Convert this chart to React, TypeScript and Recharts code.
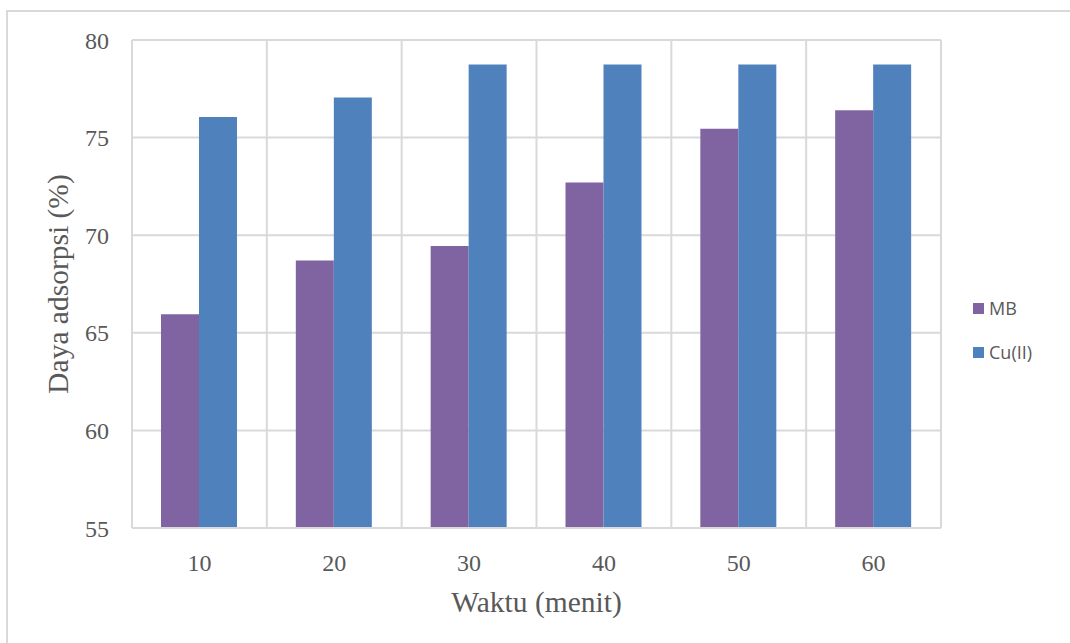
import React from "react";
import { BarChart, Bar, XAxis, YAxis, CartesianGrid, Legend, Label } from "recharts";

const waktu = ["10", "20", "30", "40", "50", "60"];
const mbValues = [65.95, 68.7, 69.45, 72.7, 75.45, 76.4];
const cuValues = [76.05, 77.05, 78.75, 78.75, 78.75, 78.75];
const yTicks = [55, 60, 65, 70, 75, 80];
const seriesNames = ["MB", "Cu(II)"];

const data = waktu.map((w, i) => ({ waktu: w, MB: mbValues[i], "Cu(II)": cuValues[i] }));

const GRID = "#d9d9d9";
const TEXT = "#595959";
const SERIF = "'Liberation Serif', 'Times New Roman', serif";

// tick text has to be drawn by hand, the tick object's fontFamily gets lost
const XTick = (props: any) => (
    <text x={props.x} y={props.y} dy="0.71em" textAnchor="middle" fill={TEXT} fontSize={24} fontFamily={SERIF}>
        {props.payload.value}
    </text>
);

const YTick = (props: any) => (
    <text x={props.x} y={props.y} dy="0.355em" textAnchor="end" fill={TEXT} fontSize={24} fontFamily={SERIF}>
        {props.payload.value}
    </text>
);

const renderLegend = (props: any) => {
    const items = [...(props.payload || [])].sort(
        (a: any, b: any) => seriesNames.indexOf(a.value) - seriesNames.indexOf(b.value)
    );
    return (
        <div style={{ fontFamily: "'Open Sans', sans-serif", fontSize: 18, color: TEXT }}>
            {items.map((e: any) => (
                <div key={e.value} style={{ display: "flex", alignItems: "center", height: 44 }}>
                    <span
                        style={{ display: "inline-block", width: 11, height: 11, background: e.color, marginRight: 5 }}
                    />
                    {e.value}
                </div>
            ))}
        </div>
    );
};

const App: React.FC = () => {
    return (
        <div style={{ position: "absolute", left: 0, top: 0, width: 1070, height: 643, background: "#fff" }}>
            <div
                style={{
                    position: "absolute",
                    left: 6,
                    top: 10,
                    width: 1064,
                    height: 633,
                    borderTop: `2px solid ${GRID}`,
                    borderLeft: `2px solid ${GRID}`,
                    boxSizing: "border-box",
                }}
            />
            <div style={{ position: "absolute", left: 0, top: 0 }}>
                <BarChart
                    width={1070}
                    height={643}
                    data={data}
                    margin={{ top: 40, right: 129, bottom: 75, left: 62 }}
                    barCategoryGap="21.5%"
                    barGap={0}
                >
                    <CartesianGrid
                        stroke={GRID}
                        strokeWidth={2}
                        verticalCoordinatesGenerator={({ offset }: any) =>
                            waktu.concat("").map((_, i) => offset.left + (i * offset.width) / waktu.length)
                        }
                    />
                    <XAxis
                        dataKey="waktu"
                        height={40}
                        axisLine={{ stroke: GRID, strokeWidth: 2 }}
                        tickLine={false}
                        tickSize={0}
                        tickMargin={26}
                        tick={<XTick />}
                    >
                        <Label
                            value="Waktu (menit)"
                            position="bottom"
                            offset={23}
                            fill={TEXT}
                            fontSize={29.5}
                            fontFamily={SERIF}
                        />
                    </XAxis>
                    <YAxis
                        domain={[55, 80]}
                        ticks={yTicks}
                        width={70}
                        axisLine={false}
                        tickLine={false}
                        tickSize={0}
                        tickMargin={23}
                        tick={<YTick />}
                    >
                        <Label
                            value="Daya adsorpsi (%)"
                            position="center"
                            angle={-90}
                            dx={-39}
                            fill={TEXT}
                            fontSize={29.5}
                            fontFamily={SERIF}
                        />
                    </YAxis>
                    <Legend
                        layout="vertical"
                        align="center"
                        verticalAlign="middle"
                        wrapperStyle={{ left: 973, top: 286, width: 100 }}
                        content={renderLegend}
                    />
                    <Bar dataKey="MB" fill="#8064A2" isAnimationActive={false} />
                    <Bar dataKey="Cu(II)" fill="#4F81BD" isAnimationActive={false} />
                </BarChart>
            </div>
        </div>
    );
};

export default App;
